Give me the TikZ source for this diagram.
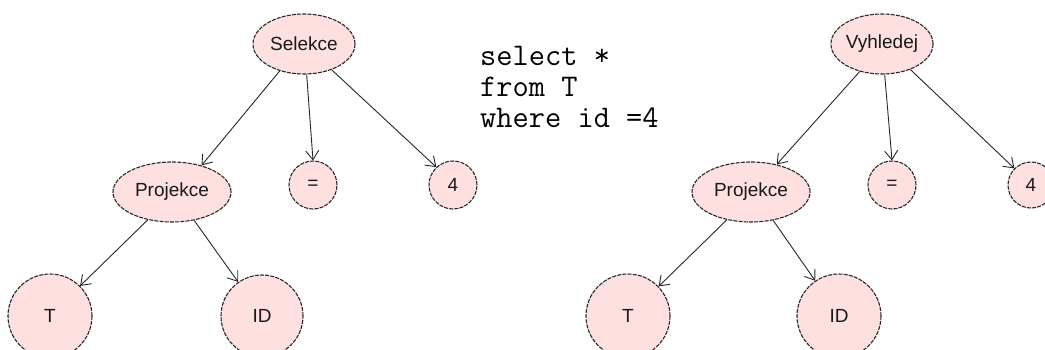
\documentclass[tikz,border=0pt]{standalone}
\usepackage{fontspec}
\setmainfont{Liberation Sans}
\usetikzlibrary{shapes.geometric,arrows.meta}

\definecolor{nodefill}{RGB}{255,224,224}
\definecolor{nodeline}{RGB}{40,40,40}

\tikzset{
  treenode/.style={draw=nodeline, fill=nodefill, line width=1.1pt,
    dash pattern=on 4pt off 1.2pt, inner sep=0pt,
    font=\fontsize{19}{21}\selectfont, text=black!90},
  oval/.style={treenode, ellipse},
  disc/.style={treenode, circle},
  edge/.style={draw=black!85, line width=0.9pt,
    -{Straight Barb[length=9pt,width=13pt,line width=0.9pt]}},
}

\begin{document}
\begin{tikzpicture}[x=1pt,y=-1pt]
\useasboundingbox (0,0) rectangle (1045,349);
\clip (0,0) rectangle (1045,349);

% query tree before rewriting
\node[oval, minimum width=102pt, minimum height=60pt] (sel) at (304,44) {Selekce};
\node[oval, minimum width=118pt, minimum height=60pt] (projL) at (172,192) {Projekce};
\node[disc, minimum size=48pt] (eqL) at (313,185) {=};
\node[disc, minimum size=48pt] (fourL) at (453,185) {4};
\node[disc, minimum size=84pt] (tL) at (50,316) {T};
\node[disc, minimum size=82pt] (idL) at (262,316) {ID};

\draw[edge] (sel.-132) -- (projL.42);
\draw[edge] (sel.-85) -- (eqL.north);
\draw[edge] (sel.-43) -- (fourL.133);
\draw[edge] (projL.-131) -- (tL.45);
\draw[edge] (projL.-52) -- (idL.125);

% SQL statement
\node[anchor=north west, align=left, inner sep=0pt,
      font=\ttfamily\fontsize{31.5}{31}\selectfont] (sql) at (480,46)
  {select *\\from T\\where id =4};

% query tree after rewriting
\node[oval, minimum width=100pt, minimum height=60pt] (vyh) at (882,44) {Vyhledej};
\node[oval, minimum width=118pt, minimum height=60pt] (projR) at (751,192) {Projekce};
\node[disc, minimum size=48pt] (eqR) at (892,185) {=};
\node[disc, minimum size=46pt] (fourR) at (1031,185) {4};
\node[disc, minimum size=84pt] (tR) at (628,316) {T};
\node[disc, minimum size=84pt] (idR) at (839,316) {ID};

\draw[edge] (vyh.-129) -- (projR.47);
\draw[edge] (vyh.-85) -- (eqR.north);
\draw[edge] (vyh.-42) -- (fourR.135);
\draw[edge] (projR.-131) -- (tR.44);
\draw[edge] (projR.-52) -- (idR.124);
\end{tikzpicture}
\end{document}
